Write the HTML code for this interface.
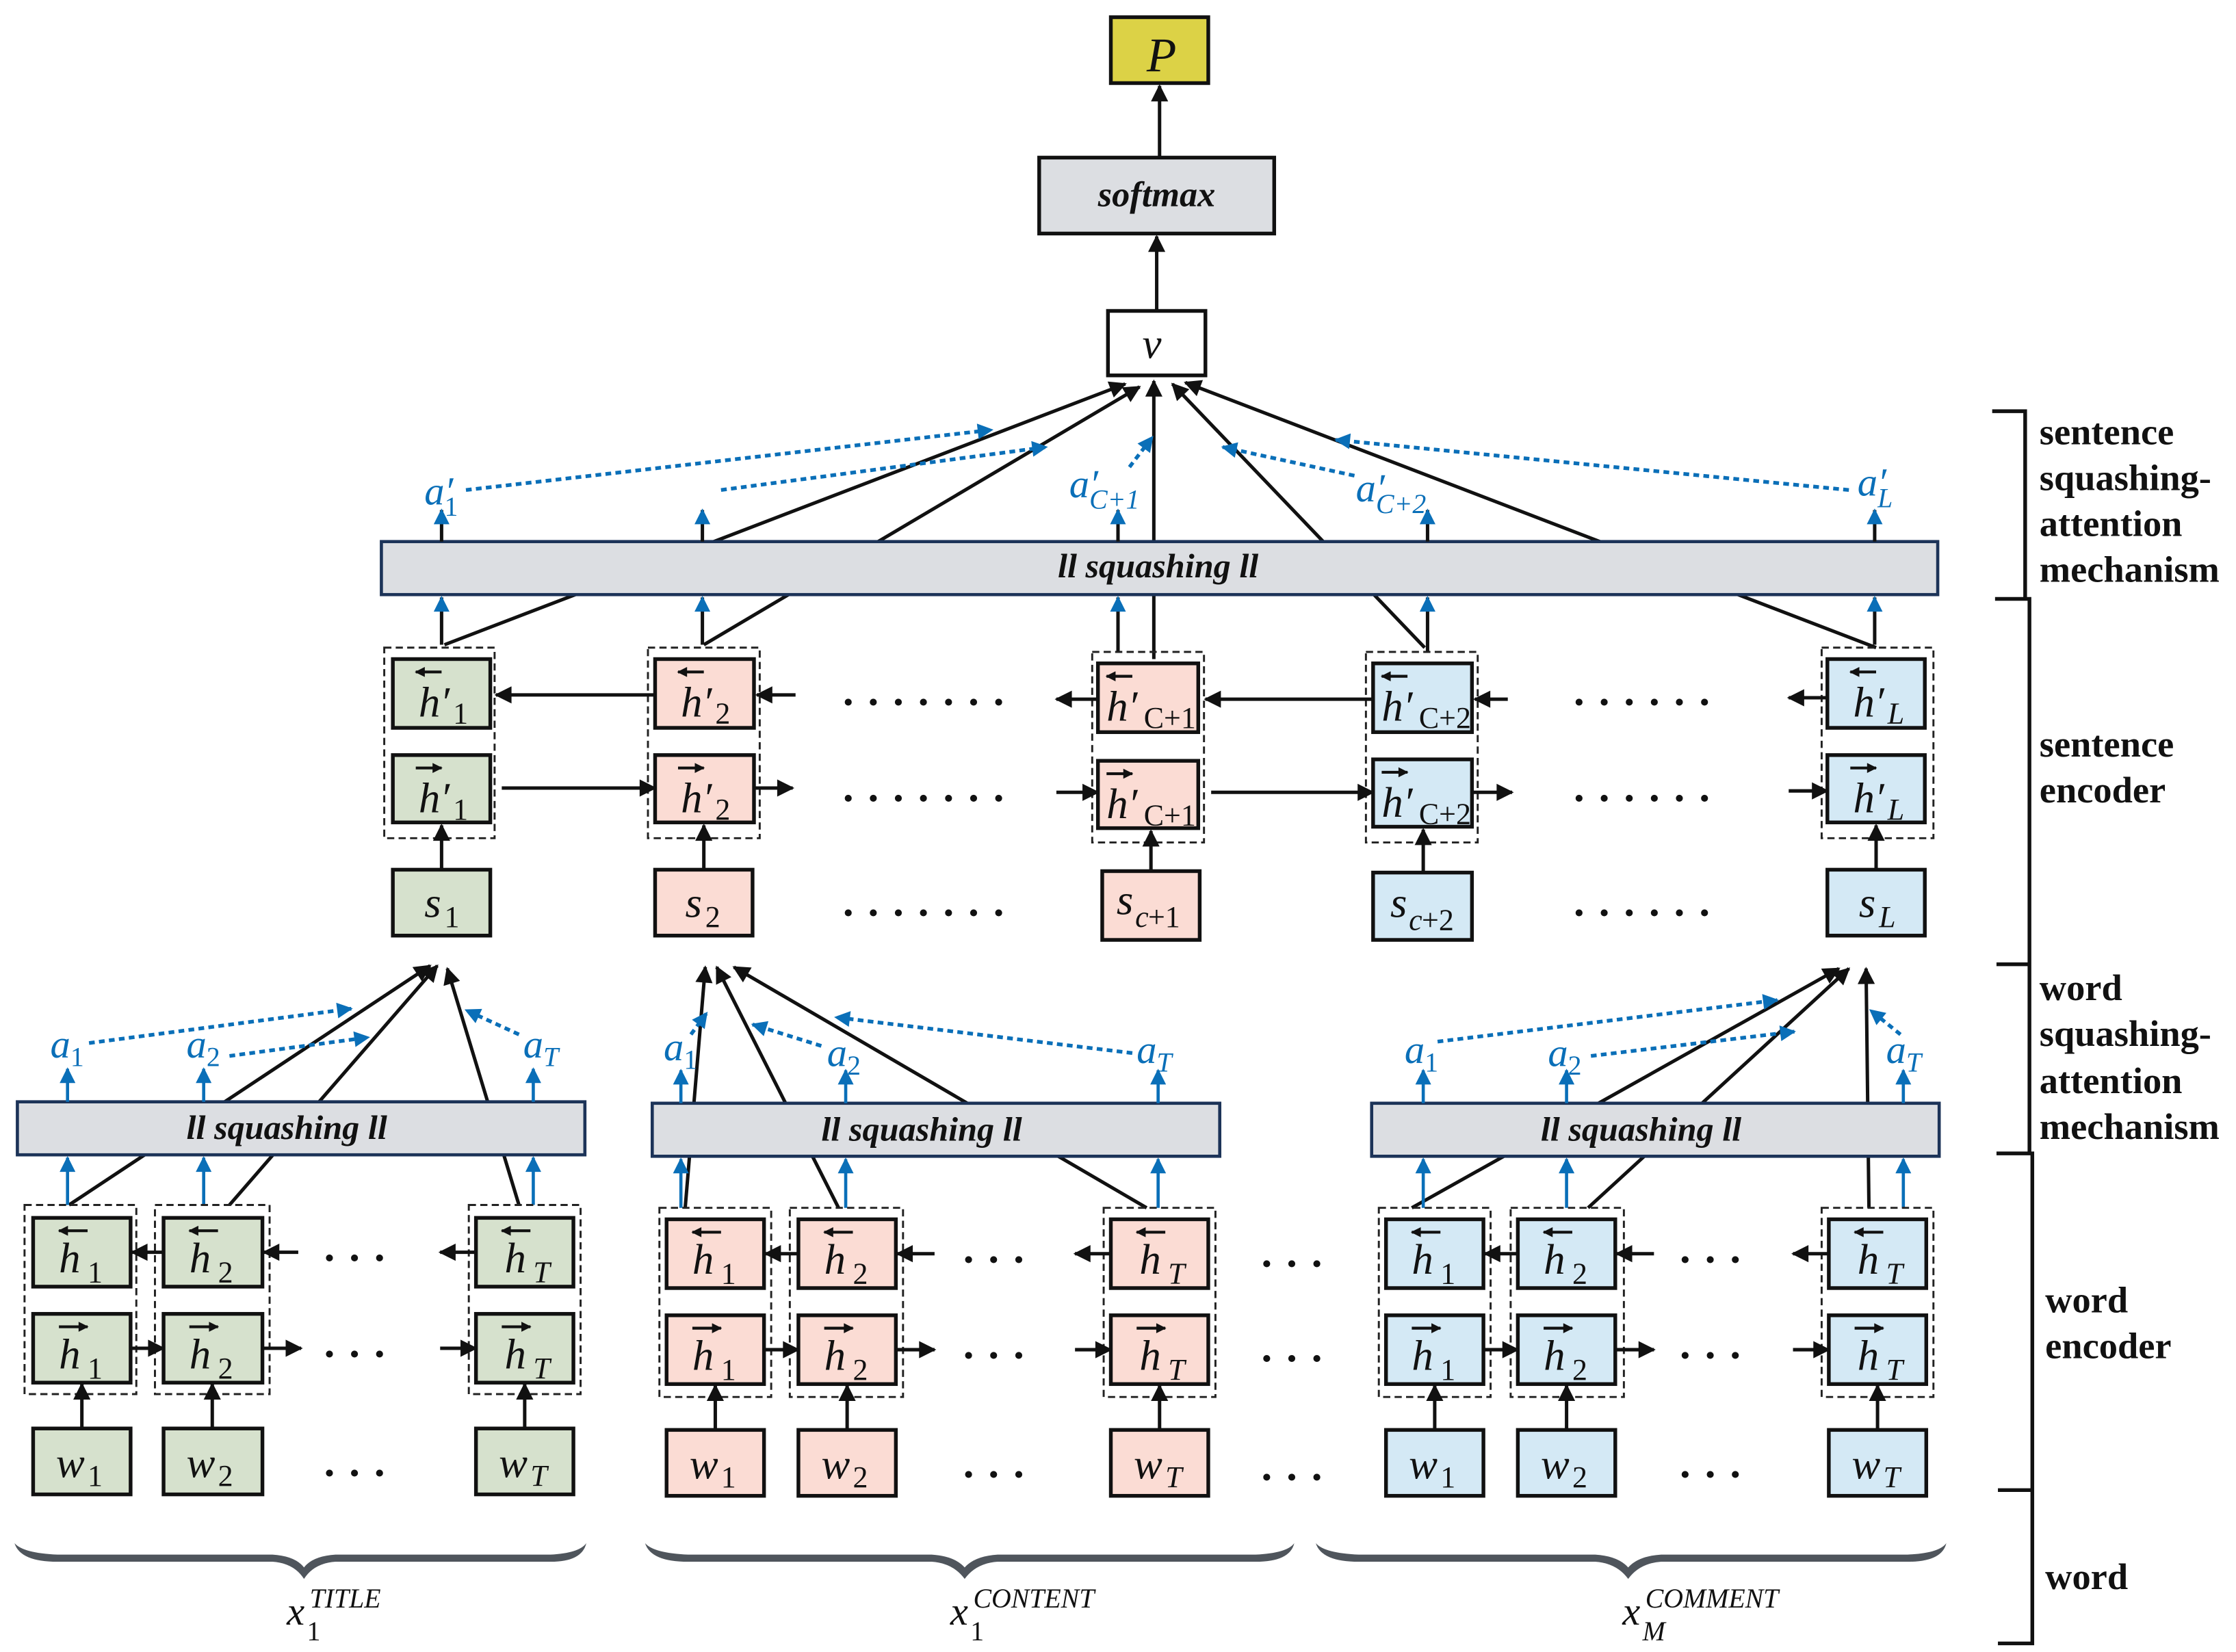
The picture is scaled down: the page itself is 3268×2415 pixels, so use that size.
<!DOCTYPE html>
<html><head><meta charset="utf-8"><style>
html,body{margin:0;padding:0;background:#fff}
svg{display:block}
.m{font-family:"Liberation Serif",serif;font-style:italic;font-size:30px;fill:#111}
.s{font-family:"Liberation Serif",serif;font-size:21px;fill:#111}
.si{font-family:"Liberation Serif",serif;font-style:italic;font-size:21px;fill:#111}
.bl{font-family:"Liberation Serif",serif;font-style:italic;font-size:28px;fill:#0a6fb8}
.bls{font-family:"Liberation Serif",serif;font-size:19px;fill:#0a6fb8}
.blsi{font-family:"Liberation Serif",serif;font-style:italic;font-size:19px;fill:#0a6fb8}
.sq{font-family:"Liberation Serif",serif;font-style:italic;font-weight:bold;font-size:24px;fill:#111}
.lab{font-family:"Liberation Serif",serif;font-weight:bold;font-size:26px;fill:#111}
rect{stroke:#111;stroke-width:2.6}
.g{fill:#d6e1cd}.p{fill:#fbdcd4}.b{fill:#d4e9f5}
.d{fill:none;stroke:#222;stroke-width:1.4;stroke-dasharray:5 3}
.bar{fill:#dcdee2;stroke:#1c3358;stroke-width:2.2}
line,path.k{stroke:#111;stroke-width:2.4;fill:none}
.blue{stroke:#0a6fb8;stroke-width:2.2}
.dot{stroke:#0a6fb8;stroke-width:2.6;stroke-dasharray:4 3}
.dt{font-family:"Liberation Serif",serif;font-weight:bold;font-size:30px;fill:#111;letter-spacing:10px}
</style></head><body>
<svg width="3268" height="2415" viewBox="0 0 1560 1153" xmlns="http://www.w3.org/2000/svg">
<defs>
<marker id="ak" viewBox="0 0 10 10" refX="9" refY="5" markerUnits="userSpaceOnUse" markerWidth="13" markerHeight="12" orient="auto"><path d="M0,0L10,5L0,10z" fill="#111"/></marker>
<marker id="as" viewBox="0 0 10 10" refX="9" refY="5" markerUnits="userSpaceOnUse" markerWidth="8" markerHeight="7" orient="auto"><path d="M0,0L10,5L0,10z" fill="#111"/></marker>
<marker id="ab" viewBox="0 0 10 10" refX="9" refY="5" markerUnits="userSpaceOnUse" markerWidth="13" markerHeight="11" orient="auto"><path d="M0,0L10,5L0,10z" fill="#0a6fb8"/></marker>
</defs>

<!-- top -->
<rect x="775" y="12" width="68" height="46" fill="#dcd246"/>
<text x="800" y="50" class="m" style="font-size:34px">P</text>
<line x1="809" y1="110" x2="809" y2="60" marker-end="url(#ak)"/>
<rect x="725" y="110" width="164" height="53" class="bar" style="stroke:#111;stroke-width:2.6"/>
<text x="807" y="144" class="sq" text-anchor="middle" style="font-size:25px">softmax</text>
<line x1="807" y1="217" x2="807" y2="165" marker-end="url(#ak)"/>
<rect x="773" y="217" width="68" height="45" fill="#fff"/>
<text x="797" y="250" class="m">v</text>

<!-- lines into v (behind bar) -->
<line x1="310" y1="450" x2="785" y2="268" marker-end="url(#ak)"/>
<line x1="491" y1="450" x2="795" y2="270" marker-end="url(#ak)"/>
<line x1="805" y1="460" x2="805" y2="266" marker-end="url(#ak)"/>
<line x1="994" y1="452" x2="818" y2="268" marker-end="url(#ak)"/>
<line x1="1309" y1="452" x2="827" y2="267" marker-end="url(#ak)"/>

<!-- sentence bar -->
<rect x="266" y="378" width="1086" height="37" class="bar"/>
<text x="808" y="403" class="sq" text-anchor="middle">ll squashing ll</text>

<!-- sentence blue arrows -->
<g class="blue" marker-end="url(#ab)">
<line x1="308" y1="450" x2="308" y2="417" marker-end="url(#ab)"/><line x1="308" y1="378" x2="308" y2="356" marker-end="url(#ab)"/>
<line x1="490" y1="450" x2="490" y2="417" marker-end="url(#ab)"/><line x1="490" y1="378" x2="490" y2="356" marker-end="url(#ab)"/>
<line x1="780" y1="455" x2="780" y2="417" marker-end="url(#ab)"/><line x1="780" y1="378" x2="780" y2="356" marker-end="url(#ab)"/>
<line x1="996" y1="455" x2="996" y2="417" marker-end="url(#ab)"/><line x1="996" y1="378" x2="996" y2="356" marker-end="url(#ab)"/>
<line x1="1308" y1="450" x2="1308" y2="417" marker-end="url(#ab)"/><line x1="1308" y1="378" x2="1308" y2="356" marker-end="url(#ab)"/>
</g>
<text x="296" y="352" class="bl">a′</text><text x="310" y="360" class="bls">1</text>
<text x="746" y="347" class="bl">a′</text><text x="760" y="355" class="blsi">C+1</text>
<text x="946" y="350" class="bl">a′</text><text x="960" y="358" class="blsi">C+2</text>
<text x="1296" y="346" class="bl">a′</text><text x="1310" y="354" class="blsi">L</text>
<line class="dot" x1="325" y1="342" x2="692" y2="300" marker-end="url(#ab)"/>
<line class="dot" x1="503" y1="342" x2="730" y2="312" marker-end="url(#ab)"/>
<line class="dot" x1="788" y1="326" x2="804" y2="305" marker-end="url(#ab)"/>
<line class="dot" x1="945" y1="332" x2="853" y2="312" marker-end="url(#ab)"/>
<line class="dot" x1="1290" y1="342" x2="932" y2="307" marker-end="url(#ab)"/>

<!-- sentence encoder -->
<rect class="d" x="268" y="452" width="77" height="133"/>
<rect class="d" x="452" y="452" width="78" height="133"/>
<rect class="d" x="762" y="455" width="78" height="133"/>
<rect class="d" x="953" y="455" width="78" height="133"/>
<rect class="d" x="1271" y="452" width="78" height="133"/>

<!-- col1 -->
<g transform="translate(274,460)"><rect width="68" height="48" class="g"/><line x1="34" y1="9" x2="16" y2="9" marker-end="url(#as)" style="stroke-width:2"/><text x="18" y="40" class="m">h′</text><text x="42" y="45" class="s">1</text></g>
<g transform="translate(274,527)"><rect width="68" height="47" class="g"/><line x1="16" y1="9" x2="34" y2="9" marker-end="url(#as)" style="stroke-width:2"/><text x="18" y="40" class="m">h′</text><text x="42" y="45" class="s">1</text></g>
<rect x="274" y="607" width="68" height="46" class="g"/><text x="296" y="640" class="m">s</text><text x="310" y="647" class="s">1</text>
<!-- col2 -->
<g transform="translate(457,460)"><rect width="69" height="48" class="p"/><line x1="34" y1="9" x2="16" y2="9" marker-end="url(#as)" style="stroke-width:2"/><text x="18" y="40" class="m">h′</text><text x="42" y="45" class="s">2</text></g>
<g transform="translate(457,527)"><rect width="69" height="47" class="p"/><line x1="16" y1="9" x2="34" y2="9" marker-end="url(#as)" style="stroke-width:2"/><text x="18" y="40" class="m">h′</text><text x="42" y="45" class="s">2</text></g>
<rect x="457" y="607" width="68" height="46" class="p"/><text x="478" y="640" class="m">s</text><text x="492" y="647" class="s">2</text>
<!-- col3 -->
<g transform="translate(766,463)"><rect width="70" height="48" class="p"/><line x1="24" y1="9" x2="6" y2="9" marker-end="url(#as)" style="stroke-width:2"/><text x="6" y="40" class="m">h′</text><text x="32" y="45" class="s">C+1</text></g>
<g transform="translate(766,531)"><rect width="70" height="47" class="p"/><line x1="6" y1="9" x2="24" y2="9" marker-end="url(#as)" style="stroke-width:2"/><text x="6" y="40" class="m">h′</text><text x="32" y="45" class="s">C+1</text></g>
<rect x="769" y="608" width="68" height="48" class="p"/><text x="779" y="638" class="m">s</text><text x="792" y="647" class="si">c</text><text x="801" y="647" class="s">+1</text>
<!-- col4 -->
<g transform="translate(958,463)"><rect width="69" height="48" class="b"/><line x1="24" y1="9" x2="6" y2="9" marker-end="url(#as)" style="stroke-width:2"/><text x="6" y="40" class="m">h′</text><text x="32" y="45" class="s">C+2</text></g>
<g transform="translate(958,530)"><rect width="69" height="47" class="b"/><line x1="6" y1="9" x2="24" y2="9" marker-end="url(#as)" style="stroke-width:2"/><text x="6" y="40" class="m">h′</text><text x="32" y="45" class="s">C+2</text></g>
<rect x="958" y="609" width="69" height="47" class="b"/><text x="970" y="640" class="m">s</text><text x="983" y="649" class="si">c</text><text x="992" y="649" class="s">+2</text>
<!-- col5 -->
<g transform="translate(1275,460)"><rect width="68" height="48" class="b"/><line x1="34" y1="9" x2="16" y2="9" marker-end="url(#as)" style="stroke-width:2"/><text x="18" y="40" class="m">h′</text><text x="42" y="45" class="si">L</text></g>
<g transform="translate(1275,527)"><rect width="68" height="47" class="b"/><line x1="16" y1="9" x2="34" y2="9" marker-end="url(#as)" style="stroke-width:2"/><text x="18" y="40" class="m">h′</text><text x="42" y="45" class="si">L</text></g>
<rect x="1275" y="607" width="68" height="46" class="b"/><text x="1297" y="640" class="m">s</text><text x="1311" y="647" class="si">L</text>

<!-- sentence horizontal arrows -->
<line x1="457" y1="485" x2="346" y2="485" marker-end="url(#ak)"/>
<line x1="555" y1="485" x2="528" y2="485" marker-end="url(#ak)"/>
<line x1="765" y1="488" x2="737" y2="488" marker-end="url(#ak)"/>
<line x1="958" y1="488" x2="841" y2="488" marker-end="url(#ak)"/>
<line x1="1052" y1="488" x2="1029" y2="488" marker-end="url(#ak)"/>
<line x1="1275" y1="487" x2="1248" y2="487" marker-end="url(#ak)"/>
<line x1="350" y1="550" x2="457" y2="550" marker-end="url(#ak)"/>
<line x1="526" y1="550" x2="553" y2="550" marker-end="url(#ak)"/>
<line x1="737" y1="553" x2="766" y2="553" marker-end="url(#ak)"/>
<line x1="845" y1="553" x2="958" y2="553" marker-end="url(#ak)"/>
<line x1="1027" y1="553" x2="1055" y2="553" marker-end="url(#ak)"/>
<line x1="1248" y1="552" x2="1275" y2="552" marker-end="url(#ak)"/>
<line x1="308" y1="607" x2="308" y2="576" marker-end="url(#ak)"/>
<line x1="491" y1="607" x2="491" y2="576" marker-end="url(#ak)"/>
<line x1="803" y1="608" x2="803" y2="580" marker-end="url(#ak)"/>
<line x1="993" y1="609" x2="993" y2="579" marker-end="url(#ak)"/>
<line x1="1309" y1="607" x2="1309" y2="576" marker-end="url(#ak)"/>
<text x="588" y="492" class="dt">.......</text><text x="588" y="559" class="dt">.......</text><text x="588" y="639" class="dt">.......</text>
<text x="1098" y="492" class="dt">......</text><text x="1098" y="559" class="dt">......</text><text x="1098" y="639" class="dt">......</text>

<!-- WORD GROUP 1 -->
<line x1="48" y1="841" x2="300" y2="674" marker-end="url(#ak)"/>
<line x1="160" y1="841" x2="305" y2="674" marker-end="url(#ak)"/>
<line x1="362" y1="841" x2="312" y2="676" marker-end="url(#ak)"/>
<rect x="12" y="769" width="396" height="37" class="bar"/>
<text x="200" y="795" class="sq" text-anchor="middle">ll squashing ll</text>
<!-- WORD GROUP 2 -->
<line x1="478" y1="843" x2="492" y2="675" marker-end="url(#ak)"/>
<line x1="585" y1="843" x2="500" y2="675" marker-end="url(#ak)"/>
<line x1="800" y1="843" x2="512" y2="675" marker-end="url(#ak)"/>
<rect x="455" y="770" width="396" height="37" class="bar"/>
<text x="643" y="796" class="sq" text-anchor="middle">ll squashing ll</text>
<!-- WORD GROUP 3 -->
<line x1="985" y1="843" x2="1283" y2="676" marker-end="url(#ak)"/>
<line x1="1108" y1="843" x2="1290" y2="676" marker-end="url(#ak)"/>
<line x1="1304" y1="843" x2="1302" y2="676" marker-end="url(#ak)"/>
<rect x="957" y="770" width="396" height="37" class="bar"/>
<text x="1145" y="796" class="sq" text-anchor="middle">ll squashing ll</text>

<!-- word blue arrows & labels -->
<g>
<line class="blue" x1="47" y1="841" x2="47" y2="808" marker-end="url(#ab)"/><line class="blue" x1="47" y1="769" x2="47" y2="746" marker-end="url(#ab)"/>
<line class="blue" x1="142" y1="841" x2="142" y2="808" marker-end="url(#ab)"/><line class="blue" x1="142" y1="769" x2="142" y2="746" marker-end="url(#ab)"/>
<line class="blue" x1="372" y1="841" x2="372" y2="808" marker-end="url(#ab)"/><line class="blue" x1="372" y1="769" x2="372" y2="746" marker-end="url(#ab)"/>
<line class="blue" x1="475" y1="843" x2="475" y2="809" marker-end="url(#ab)"/><line class="blue" x1="475" y1="770" x2="475" y2="747" marker-end="url(#ab)"/>
<line class="blue" x1="590" y1="843" x2="590" y2="809" marker-end="url(#ab)"/><line class="blue" x1="590" y1="770" x2="590" y2="747" marker-end="url(#ab)"/>
<line class="blue" x1="808" y1="843" x2="808" y2="809" marker-end="url(#ab)"/><line class="blue" x1="808" y1="770" x2="808" y2="747" marker-end="url(#ab)"/>
<line class="blue" x1="993" y1="843" x2="993" y2="809" marker-end="url(#ab)"/><line class="blue" x1="993" y1="770" x2="993" y2="747" marker-end="url(#ab)"/>
<line class="blue" x1="1093" y1="843" x2="1093" y2="809" marker-end="url(#ab)"/><line class="blue" x1="1093" y1="770" x2="1093" y2="747" marker-end="url(#ab)"/>
<line class="blue" x1="1328" y1="843" x2="1328" y2="809" marker-end="url(#ab)"/><line class="blue" x1="1328" y1="770" x2="1328" y2="747" marker-end="url(#ab)"/>
</g>
<text x="35" y="738" class="bl">a</text><text x="49" y="744" class="bls">1</text>
<text x="130" y="738" class="bl">a</text><text x="144" y="744" class="bls">2</text>
<text x="365" y="738" class="bl">a</text><text x="379" y="744" class="blsi">T</text>
<text x="463" y="740" class="bl">a</text><text x="477" y="746" class="bls">1</text>
<text x="577" y="744" class="bl">a</text><text x="591" y="750" class="bls">2</text>
<text x="793" y="742" class="bl">a</text><text x="807" y="748" class="blsi">T</text>
<text x="980" y="742" class="bl">a</text><text x="994" y="748" class="bls">1</text>
<text x="1080" y="744" class="bl">a</text><text x="1094" y="750" class="bls">2</text>
<text x="1316" y="742" class="bl">a</text><text x="1330" y="748" class="blsi">T</text>
<line class="dot" x1="62" y1="728" x2="245" y2="704" marker-end="url(#ab)"/>
<line class="dot" x1="160" y1="737" x2="257" y2="724" marker-end="url(#ab)"/>
<line class="dot" x1="362" y1="722" x2="325" y2="705" marker-end="url(#ab)"/>
<line class="dot" x1="482" y1="722" x2="493" y2="707" marker-end="url(#ab)"/>
<line class="dot" x1="573" y1="730" x2="525" y2="715" marker-end="url(#ab)"/>
<line class="dot" x1="790" y1="735" x2="583" y2="710" marker-end="url(#ab)"/>
<line class="dot" x1="1003" y1="727" x2="1240" y2="698" marker-end="url(#ab)"/>
<line class="dot" x1="1110" y1="737" x2="1252" y2="720" marker-end="url(#ab)"/>
<line class="dot" x1="1326" y1="722" x2="1305" y2="705" marker-end="url(#ab)"/>

<!-- word encoder boxes: dashed groups -->
<rect class="d" x="17" y="841" width="78" height="132"/><rect class="d" x="108" y="841" width="80" height="132"/><rect class="d" x="327" y="841" width="78" height="132"/>
<rect class="d" x="460" y="843" width="78" height="132"/><rect class="d" x="551" y="843" width="79" height="132"/><rect class="d" x="770" y="843" width="78" height="132"/>
<rect class="d" x="962" y="843" width="78" height="132"/><rect class="d" x="1054" y="843" width="79" height="132"/><rect class="d" x="1271" y="843" width="78" height="132"/>

<!-- group 1 boxes -->
<g transform="translate(23,850)"><rect width="68" height="48" class="g"/><line x1="38" y1="9" x2="18" y2="9" marker-end="url(#as)" style="stroke-width:2"/><text x="18" y="38" class="m">h</text><text x="38" y="45" class="s">1</text></g>
<g transform="translate(114,850)"><rect width="69" height="48" class="g"/><line x1="38" y1="9" x2="18" y2="9" marker-end="url(#as)" style="stroke-width:2"/><text x="18" y="38" class="m">h</text><text x="38" y="45" class="s">2</text></g>
<g transform="translate(332,850)"><rect width="68" height="48" class="g"/><line x1="38" y1="9" x2="18" y2="9" marker-end="url(#as)" style="stroke-width:2"/><text x="20" y="38" class="m">h</text><text x="40" y="45" class="si">T</text></g>
<g transform="translate(23,917)"><rect width="68" height="48" class="g"/><line x1="18" y1="9" x2="38" y2="9" marker-end="url(#as)" style="stroke-width:2"/><text x="18" y="38" class="m">h</text><text x="38" y="45" class="s">1</text></g>
<g transform="translate(114,917)"><rect width="69" height="48" class="g"/><line x1="18" y1="9" x2="38" y2="9" marker-end="url(#as)" style="stroke-width:2"/><text x="18" y="38" class="m">h</text><text x="38" y="45" class="s">2</text></g>
<g transform="translate(332,917)"><rect width="68" height="48" class="g"/><line x1="18" y1="9" x2="38" y2="9" marker-end="url(#as)" style="stroke-width:2"/><text x="20" y="38" class="m">h</text><text x="40" y="45" class="si">T</text></g>
<g transform="translate(23,997)"><rect width="68" height="46" class="g"/><text x="16" y="34" class="m">w</text><text x="38" y="40" class="s">1</text></g>
<g transform="translate(114,997)"><rect width="69" height="46" class="g"/><text x="16" y="34" class="m">w</text><text x="38" y="40" class="s">2</text></g>
<g transform="translate(332,997)"><rect width="68" height="46" class="g"/><text x="16" y="34" class="m">w</text><text x="38" y="40" class="si">T</text></g>
<!-- group 2 boxes -->
<g transform="translate(465,851)"><rect width="68" height="48" class="p"/><line x1="38" y1="9" x2="18" y2="9" marker-end="url(#as)" style="stroke-width:2"/><text x="18" y="38" class="m">h</text><text x="38" y="45" class="s">1</text></g>
<g transform="translate(557,851)"><rect width="68" height="48" class="p"/><line x1="38" y1="9" x2="18" y2="9" marker-end="url(#as)" style="stroke-width:2"/><text x="18" y="38" class="m">h</text><text x="38" y="45" class="s">2</text></g>
<g transform="translate(775,851)"><rect width="68" height="48" class="p"/><line x1="38" y1="9" x2="18" y2="9" marker-end="url(#as)" style="stroke-width:2"/><text x="20" y="38" class="m">h</text><text x="40" y="45" class="si">T</text></g>
<g transform="translate(465,918)"><rect width="68" height="48" class="p"/><line x1="18" y1="9" x2="38" y2="9" marker-end="url(#as)" style="stroke-width:2"/><text x="18" y="38" class="m">h</text><text x="38" y="45" class="s">1</text></g>
<g transform="translate(557,918)"><rect width="68" height="48" class="p"/><line x1="18" y1="9" x2="38" y2="9" marker-end="url(#as)" style="stroke-width:2"/><text x="18" y="38" class="m">h</text><text x="38" y="45" class="s">2</text></g>
<g transform="translate(775,918)"><rect width="68" height="48" class="p"/><line x1="18" y1="9" x2="38" y2="9" marker-end="url(#as)" style="stroke-width:2"/><text x="20" y="38" class="m">h</text><text x="40" y="45" class="si">T</text></g>
<g transform="translate(465,998)"><rect width="68" height="46" class="p"/><text x="16" y="34" class="m">w</text><text x="38" y="40" class="s">1</text></g>
<g transform="translate(557,998)"><rect width="68" height="46" class="p"/><text x="16" y="34" class="m">w</text><text x="38" y="40" class="s">2</text></g>
<g transform="translate(775,998)"><rect width="68" height="46" class="p"/><text x="16" y="34" class="m">w</text><text x="38" y="40" class="si">T</text></g>
<!-- group 3 boxes -->
<g transform="translate(967,851)"><rect width="68" height="48" class="b"/><line x1="38" y1="9" x2="18" y2="9" marker-end="url(#as)" style="stroke-width:2"/><text x="18" y="38" class="m">h</text><text x="38" y="45" class="s">1</text></g>
<g transform="translate(1059,851)"><rect width="68" height="48" class="b"/><line x1="38" y1="9" x2="18" y2="9" marker-end="url(#as)" style="stroke-width:2"/><text x="18" y="38" class="m">h</text><text x="38" y="45" class="s">2</text></g>
<g transform="translate(1276,851)"><rect width="68" height="48" class="b"/><line x1="38" y1="9" x2="18" y2="9" marker-end="url(#as)" style="stroke-width:2"/><text x="20" y="38" class="m">h</text><text x="40" y="45" class="si">T</text></g>
<g transform="translate(967,918)"><rect width="68" height="48" class="b"/><line x1="18" y1="9" x2="38" y2="9" marker-end="url(#as)" style="stroke-width:2"/><text x="18" y="38" class="m">h</text><text x="38" y="45" class="s">1</text></g>
<g transform="translate(1059,918)"><rect width="68" height="48" class="b"/><line x1="18" y1="9" x2="38" y2="9" marker-end="url(#as)" style="stroke-width:2"/><text x="18" y="38" class="m">h</text><text x="38" y="45" class="s">2</text></g>
<g transform="translate(1276,918)"><rect width="68" height="48" class="b"/><line x1="18" y1="9" x2="38" y2="9" marker-end="url(#as)" style="stroke-width:2"/><text x="20" y="38" class="m">h</text><text x="40" y="45" class="si">T</text></g>
<g transform="translate(967,998)"><rect width="68" height="46" class="b"/><text x="16" y="34" class="m">w</text><text x="38" y="40" class="s">1</text></g>
<g transform="translate(1059,998)"><rect width="68" height="46" class="b"/><text x="16" y="34" class="m">w</text><text x="38" y="40" class="s">2</text></g>
<g transform="translate(1276,998)"><rect width="68" height="46" class="b"/><text x="16" y="34" class="m">w</text><text x="38" y="40" class="si">T</text></g>

<!-- word horizontal arrows -->
<line x1="114" y1="874" x2="92" y2="874" marker-end="url(#ak)"/>
<line x1="208" y1="874" x2="184" y2="874" marker-end="url(#ak)"/>
<line x1="332" y1="874" x2="307" y2="874" marker-end="url(#ak)"/>
<line x1="91" y1="941" x2="114" y2="941" marker-end="url(#ak)"/>
<line x1="183" y1="941" x2="210" y2="941" marker-end="url(#ak)"/>
<line x1="307" y1="941" x2="332" y2="941" marker-end="url(#ak)"/>
<line x1="557" y1="875" x2="534" y2="875" marker-end="url(#ak)"/>
<line x1="652" y1="875" x2="626" y2="875" marker-end="url(#ak)"/>
<line x1="775" y1="875" x2="750" y2="875" marker-end="url(#ak)"/>
<line x1="533" y1="942" x2="557" y2="942" marker-end="url(#ak)"/>
<line x1="625" y1="942" x2="652" y2="942" marker-end="url(#ak)"/>
<line x1="750" y1="942" x2="775" y2="942" marker-end="url(#ak)"/>
<line x1="1059" y1="875" x2="1036" y2="875" marker-end="url(#ak)"/>
<line x1="1154" y1="875" x2="1128" y2="875" marker-end="url(#ak)"/>
<line x1="1276" y1="875" x2="1251" y2="875" marker-end="url(#ak)"/>
<line x1="1035" y1="942" x2="1059" y2="942" marker-end="url(#ak)"/>
<line x1="1127" y1="942" x2="1154" y2="942" marker-end="url(#ak)"/>
<line x1="1251" y1="942" x2="1276" y2="942" marker-end="url(#ak)"/>
<!-- w -> h up -->
<line x1="57" y1="997" x2="57" y2="966" marker-end="url(#ak)"/>
<line x1="148" y1="997" x2="148" y2="966" marker-end="url(#ak)"/>
<line x1="366" y1="997" x2="366" y2="966" marker-end="url(#ak)"/>
<line x1="591" y1="998" x2="591" y2="967" marker-end="url(#ak)"/>
<line x1="499" y1="998" x2="499" y2="967" marker-end="url(#ak)"/>
<line x1="809" y1="998" x2="809" y2="967" marker-end="url(#ak)"/>
<line x1="1001" y1="998" x2="1001" y2="967" marker-end="url(#ak)"/>
<line x1="1093" y1="998" x2="1093" y2="967" marker-end="url(#ak)"/>
<line x1="1310" y1="998" x2="1310" y2="967" marker-end="url(#ak)"/>
<!-- dots -->
<text x="226" y="880" class="dt">...</text><text x="226" y="947" class="dt">...</text><text x="226" y="1030" class="dt">...</text>
<text x="672" y="881" class="dt">...</text><text x="672" y="948" class="dt">...</text><text x="672" y="1031" class="dt">...</text>
<text x="1172" y="881" class="dt">...</text><text x="1172" y="948" class="dt">...</text><text x="1172" y="1031" class="dt">...</text>
<text x="880" y="884" class="dt">...</text><text x="880" y="950" class="dt">...</text><text x="880" y="1033" class="dt">...</text>

<!-- braces -->
<path d="M10,1077 Q14,1090 40,1090 L190,1090 Q205,1091 212,1102 Q219,1091 234,1090 L384,1090 Q406,1090 409,1077 Q404,1084 384,1085 L234,1085 Q218,1086 212,1094 Q206,1086 190,1085 L40,1085 Q16,1084 10,1077 Z" fill="#4f555c"/>
<path d="M450,1077 Q454,1090 480,1090 L650,1090 Q665,1091 673,1102 Q681,1091 696,1090 L876,1090 Q900,1090 903,1077 Q898,1084 876,1085 L696,1085 Q680,1086 673,1094 Q666,1086 650,1085 L480,1085 Q456,1084 450,1077 Z" fill="#4f555c"/>
<path d="M918,1077 Q922,1090 948,1090 L1113,1090 Q1128,1091 1136,1102 Q1144,1091 1159,1090 L1331,1090 Q1355,1090 1358,1077 Q1353,1084 1331,1085 L1159,1085 Q1143,1086 1136,1094 Q1129,1086 1113,1085 L948,1085 Q924,1084 918,1077 Z" fill="#4f555c"/>
<text x="200" y="1134" class="m" style="font-size:28px">x</text><text x="214" y="1145" class="s" style="font-size:19px">1</text><text x="216" y="1122" class="si" style="font-size:19px">TITLE</text>
<text x="663" y="1134" class="m" style="font-size:28px">x</text><text x="677" y="1145" class="s" style="font-size:19px">1</text><text x="679" y="1122" class="si" style="font-size:19px">CONTENT</text>
<text x="1132" y="1134" class="m" style="font-size:28px">x</text><text x="1146" y="1145" class="si" style="font-size:19px">M</text><text x="1148" y="1122" class="si" style="font-size:19px">COMMENT</text>

<!-- right brackets -->
<path class="k" d="M1390,287 L1413,287 L1413,418 L1392,418 M1413,418 L1416,418 L1416,673 L1393,673 M1416,673 L1416,805 L1393,805 M1416,805 L1418,805 L1418,1040 L1394,1040 M1418,1040 L1418,1147 L1394,1147" style="stroke-width:2.6"/>
<g class="lab">
<text x="1423" y="310">sentence</text><text x="1423" y="342">squashing-</text><text x="1423" y="374">attention</text><text x="1423" y="406">mechanism</text>
<text x="1423" y="528">sentence</text><text x="1423" y="560">encoder</text>
<text x="1423" y="698">word</text><text x="1423" y="730">squashing-</text><text x="1423" y="763">attention</text><text x="1423" y="795">mechanism</text>
<text x="1427" y="916">word</text><text x="1427" y="948">encoder</text>
<text x="1427" y="1109">word</text>
</g>
</svg>
</body></html>
